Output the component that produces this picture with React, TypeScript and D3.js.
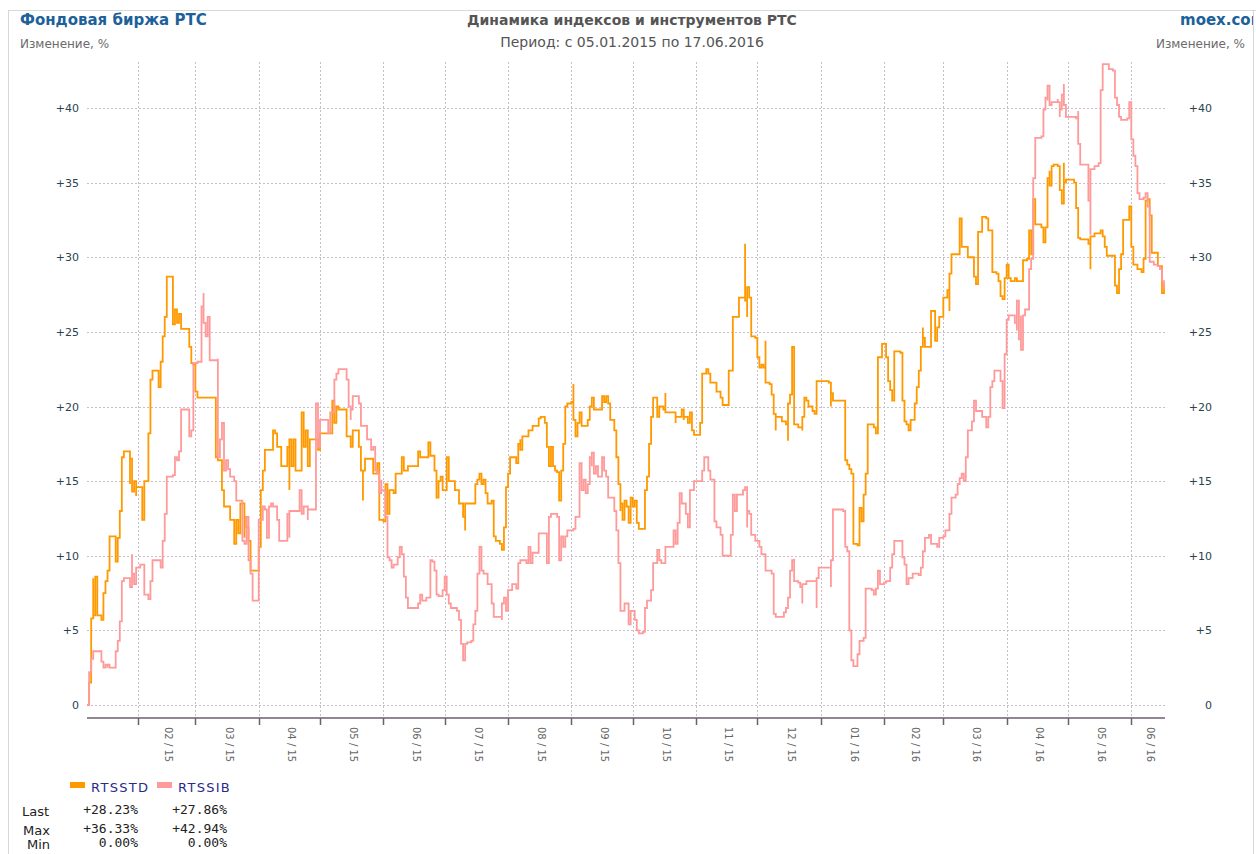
import React, { useEffect, useRef } from "react";
import * as d3 from "d3";

// RTSSTD (orange) - date, % change
const rtsstd: [string, number][] = [
  ["2015-01-07",0],["2015-01-08",1.5],["2015-01-09",3.2],["2015-01-09",5.8],["2015-01-10",8.5],["2015-01-10",6.0],
  ["2015-01-11",8.6],["2015-01-12",6.0],["2015-01-14",6.0],["2015-01-14",5.7],["2015-01-15",7.5],["2015-01-16",8.3],
  ["2015-01-17",9.0],["2015-01-18",11.3],["2015-01-21",11.3],["2015-01-21",9.6],["2015-01-22",11.2],["2015-01-23",13.0],
  ["2015-01-24",16.6],["2015-01-25",17.0],["2015-01-27",17.0],["2015-01-28",14.8],["2015-01-28",16.5],["2015-01-29",14.3],
  ["2015-01-30",15.0],["2015-01-31",14.0],["2015-01-31",14.6],["2015-02-02",14.6],["2015-02-03",12.4],["2015-02-04",15.0],
  ["2015-02-06",15.0],["2015-02-06",18.2],["2015-02-07",21.8],["2015-02-08",22.4],["2015-02-10",22.4],["2015-02-11",21.3],
  ["2015-02-12",23.0],["2015-02-13",24.7],["2015-02-14",26.0],["2015-02-15",28.7],["2015-02-17",28.7],["2015-02-18",25.5],
  ["2015-02-19",26.5],["2015-02-20",25.6],["2015-02-21",26.2],["2015-02-22",25.2],["2015-02-25",25.2],["2015-02-26",24.0],
  ["2015-02-27",22.9],["2015-02-28",22.8],["2015-03-01",21.0],["2015-03-02",20.6],["2015-03-10",20.6],["2015-03-11",16.6],
  ["2015-03-12",16.4],["2015-03-13",16.4],["2015-03-14",14.4],["2015-03-15",13.3],["2015-03-17",13.3],["2015-03-18",12.4],
  ["2015-03-20",10.8],["2015-03-21",12.4],["2015-03-22",11.5],["2015-03-23",13.5],["2015-03-24",13.5],["2015-03-25",11.2],
  ["2015-03-25",12.6],["2015-03-26",11.9],["2015-03-27",11.0],["2015-03-28",9.0],["2015-03-31",9.0],["2015-04-01",10.6],
  ["2015-04-02",14.4],["2015-04-03",15.7],["2015-04-04",17.1],["2015-04-08",17.2],["2015-04-08",18.4],["2015-04-09",18.2],
  ["2015-04-10",17.3],["2015-04-12",16.0],["2015-04-13",16.0],["2015-04-15",17.3],["2015-04-16",14.4],["2015-04-16",17.8],
  ["2015-04-17",16.0],["2015-04-18",17.8],["2015-04-19",15.7],["2015-04-21",15.7],["2015-04-22",19.6],["2015-04-23",17.3],
  ["2015-04-24",18.4],["2015-04-25",16.0],["2015-04-26",17.8],["2015-04-30",17.8],["2015-04-30",17.1],["2015-05-01",18.2],
  ["2015-05-06",18.2],["2015-05-07",20.4],["2015-05-08",18.9],["2015-05-09",20.0],["2015-05-10",19.8],["2015-05-13",19.8],
  ["2015-05-14",18.0],["2015-05-16",17.3],["2015-05-17",18.4],["2015-05-19",18.4],["2015-05-20",17.3],["2015-05-21",15.7],
  ["2015-05-22",13.7],["2015-05-22",15.7],["2015-05-23",16.5],["2015-05-25",16.5],["2015-05-27",16.2],["2015-05-27",15.5],
  ["2015-05-29",16.2],["2015-05-30",15.3],["2015-05-30",12.4],["2015-06-01",12.3],["2015-06-02",14.8],["2015-06-03",12.8],
  ["2015-06-04",14.4],["2015-06-06",14.2],["2015-06-07",15.5],["2015-06-10",15.5],["2015-06-10",16.6],["2015-06-11",15.7],
  ["2015-06-13",16.0],["2015-06-16",16.0],["2015-06-18",17.0],["2015-06-19",16.6],["2015-06-22",16.6],["2015-06-23",17.6],
  ["2015-06-24",16.7],["2015-06-26",15.7],["2015-06-27",14.6],["2015-06-27",13.9],["2015-06-28",15.0],["2015-06-29",15.3],
  ["2015-06-30",14.4],["2015-07-02",15.3],["2015-07-02",16.6],["2015-07-03",15.0],["2015-07-06",14.4],["2015-07-07",14.4],
  ["2015-07-08",13.5],["2015-07-10",12.6],["2015-07-11",11.7],["2015-07-11",13.5],["2015-07-14",13.5],["2015-07-16",14.8],
  ["2015-07-17",15.1],["2015-07-18",15.5],["2015-07-19",14.8],["2015-07-20",15.1],["2015-07-21",14.2],["2015-07-22",13.5],
  ["2015-07-24",13.7],["2015-07-25",11.3],["2015-07-26",11.0],["2015-07-28",10.8],["2015-07-29",10.4],["2015-07-30",11.9],
  ["2015-07-31",14.6],["2015-08-01",15.5],["2015-08-02",16.6],["2015-08-03",16.6],["2015-08-05",16.2],["2015-08-06",17.5],
  ["2015-08-07",17.8],["2015-08-07",17.1],["2015-08-08",18.0],["2015-08-11",18.4],["2015-08-13",18.7],["2015-08-16",19.2],
  ["2015-08-17",19.3],["2015-08-19",18.9],["2015-08-20",18.0],["2015-08-20",17.3],["2015-08-21",16.0],["2015-08-22",17.3],
  ["2015-08-23",16.0],["2015-08-24",15.7],["2015-08-25",15.6],["2015-08-26",13.7],["2015-08-27",15.7],["2015-08-28",17.5],
  ["2015-08-29",20.0],["2015-08-30",20.2],["2015-09-01",20.3],["2015-09-02",21.5],["2015-09-02",19.1],["2015-09-03",18.0],
  ["2015-09-04",18.9],["2015-09-05",19.6],["2015-09-06",18.7],["2015-09-07",18.7],["2015-09-09",19.1],["2015-09-10",20.0],
  ["2015-09-11",20.6],["2015-09-12",19.8],["2015-09-16",19.8],["2015-09-16",20.7],["2015-09-17",20.3],["2015-09-18",20.7],
  ["2015-09-19",20.2],["2015-09-20",19.1],["2015-09-21",19.1],["2015-09-22",18.4],["2015-09-23",16.6],["2015-09-24",14.8],
  ["2015-09-25",13.0],["2015-09-25",13.5],["2015-09-26",12.4],["2015-09-27",13.7],["2015-09-28",13.3],["2015-09-29",12.2],
  ["2015-09-30",13.9],["2015-10-01",13.3],["2015-10-02",13.7],["2015-10-03",12.2],["2015-10-04",11.8],["2015-10-07",11.8],
  ["2015-10-07",14.4],["2015-10-08",15.3],["2015-10-09",16.6],["2015-10-09",17.5],["2015-10-10",19.3],["2015-10-11",20.6],
  ["2015-10-13",20.6],["2015-10-13",19.3],["2015-10-14",20.0],["2015-10-16",19.8],["2015-10-17",20.9],["2015-10-17",19.6],
  ["2015-10-21",19.6],["2015-10-22",18.9],["2015-10-22",19.3],["2015-10-24",19.3],["2015-10-25",19.8],["2015-10-26",19.1],
  ["2015-10-26",19.3],["2015-10-28",18.9],["2015-10-29",19.6],["2015-10-30",18.4],["2015-10-31",18.1],["2015-11-02",18.1],
  ["2015-11-03",18.9],["2015-11-04",20.0],["2015-11-04",22.2],["2015-11-06",22.5],["2015-11-07",22.2],["2015-11-08",21.6],
  ["2015-11-09",21.6],["2015-11-11",21.0],["2015-11-13",20.6],["2015-11-14",20.1],["2015-11-17",20.1],["2015-11-17",22.4],
  ["2015-11-19",26.0],["2015-11-21",26.0],["2015-11-22",27.3],["2015-11-24",27.3],["2015-11-25",30.9],["2015-11-25",27.1],
  ["2015-11-26",26.0],["2015-11-26",28.0],["2015-11-27",27.3],["2015-11-28",27.1],["2015-11-28",24.7],["2015-11-30",24.6],
  ["2015-12-01",23.3],["2015-12-02",22.6],["2015-12-03",22.8],["2015-12-04",22.6],["2015-12-05",24.4],["2015-12-05",21.6],
  ["2015-12-07",21.5],["2015-12-08",20.8],["2015-12-09",19.5],["2015-12-10",18.4],["2015-12-10",19.3],["2015-12-11",19.3],
  ["2015-12-13",19.0],["2015-12-15",18.8],["2015-12-16",17.7],["2015-12-16",20.2],["2015-12-17",20.8],["2015-12-18",24.0],
  ["2015-12-19",20.8],["2015-12-19",18.8],["2015-12-21",18.6],["2015-12-23",18.4],["2015-12-23",19.3],["2015-12-24",20.6],
  ["2015-12-25",20.4],["2015-12-26",20.0],["2015-12-28",19.7],["2015-12-29",19.5],["2015-12-30",21.7],["2016-01-02",21.7],
  ["2016-01-05",21.6],["2016-01-06",20.0],["2016-01-06",20.9],["2016-01-07",20.4],["2016-01-12",20.4],["2016-01-13",16.4],
  ["2016-01-14",16.1],["2016-01-15",15.8],["2016-01-16",15.5],["2016-01-17",10.8],["2016-01-19",10.7],["2016-01-20",11.4],
  ["2016-01-20",13.2],["2016-01-21",12.3],["2016-01-22",14.1],["2016-01-23",15.5],["2016-01-24",18.8],["2016-01-27",18.6],
  ["2016-01-28",18.2],["2016-01-29",20.8],["2016-01-29",23.3],["2016-01-31",24.2],["2016-02-02",24.1],["2016-02-02",23.3],
  ["2016-02-03",21.7],["2016-02-04",21.1],["2016-02-05",20.4],["2016-02-06",23.7],["2016-02-09",23.6],["2016-02-10",20.4],
  ["2016-02-11",19.5],["2016-02-11",19.0],["2016-02-12",18.8],["2016-02-13",18.4],["2016-02-14",19.1],["2016-02-16",19.2],
  ["2016-02-16",20.2],["2016-02-17",21.3],["2016-02-18",22.4],["2016-02-19",24.0],["2016-02-20",25.3],["2016-02-20",24.6],
  ["2016-02-21",24.0],["2016-02-23",24.0],["2016-02-24",26.4],["2016-02-25",26.4],["2016-02-26",24.4],["2016-02-27",25.3],
  ["2016-02-28",26.0],["2016-02-29",26.0],["2016-03-01",27.3],["2016-03-03",27.8],["2016-03-04",26.4],["2016-03-04",28.9],
  ["2016-03-05",30.2],["2016-03-08",30.2],["2016-03-09",32.5],["2016-03-09",32.6],["2016-03-10",30.7],["2016-03-13",30.0],
  ["2016-03-14",30.0],["2016-03-16",28.7],["2016-03-17",28.2],["2016-03-18",29.3],["2016-03-18",31.7],["2016-03-20",32.7],
  ["2016-03-22",32.6],["2016-03-23",31.8],["2016-03-25",29.0],["2016-03-27",28.9],["2016-03-28",28.4],["2016-03-29",27.4],
  ["2016-03-30",27.2],["2016-03-31",28.6],["2016-04-01",29.5],["2016-04-02",28.6],["2016-04-03",28.4],["2016-04-05",28.6],
  ["2016-04-06",28.4],["2016-04-09",28.4],["2016-04-09",29.8],["2016-04-11",29.9],["2016-04-12",31.8],["2016-04-13",31.8],
  ["2016-04-13",30.2],["2016-04-14",33.9],["2016-04-15",32.2],["2016-04-18",32.0],["2016-04-19",31.0],["2016-04-20",32.0],
  ["2016-04-21",35.3],["2016-04-22",35.8],["2016-04-22",34.8],["2016-04-23",36.1],["2016-04-24",36.2],["2016-04-26",36.1],
  ["2016-04-27",35.3],["2016-04-27",34.5],["2016-04-28",33.6],["2016-04-29",36.33],["2016-04-29",35.0],["2016-04-30",35.2],
  ["2016-05-04",35.0],["2016-05-05",33.3],["2016-05-06",31.7],["2016-05-06",31.3],["2016-05-07",31.2],["2016-05-10",31.2],
  ["2016-05-11",30.9],["2016-05-12",29.2],["2016-05-12",31.4],["2016-05-14",31.6],["2016-05-17",31.8],["2016-05-18",31.4],
  ["2016-05-19",30.7],["2016-05-20",30.1],["2016-05-23",30.1],["2016-05-24",28.1],["2016-05-25",27.6],["2016-05-26",29.2],
  ["2016-05-27",30.2],["2016-05-28",31.5],["2016-05-28",32.5],["2016-05-31",32.5],["2016-05-31",33.4],["2016-06-01",30.7],
  ["2016-06-02",29.5],["2016-06-04",29.2],["2016-06-06",29.0],["2016-06-07",29.9],["2016-06-08",33.8],["2016-06-09",33.9],
  ["2016-06-10",33.5],["2016-06-10",32.8],["2016-06-11",30.3],["2016-06-14",30.3],["2016-06-14",29.4],["2016-06-16",28.1],
  ["2016-06-16",27.6],["2016-06-17",28.23],
];

// RTSSIB (pink) - date, % change
const rtssib: [string, number][] = [
  ["2015-01-07",0],["2015-01-08",1.6],["2015-01-08",2.2],["2015-01-09",3.1],["2015-01-10",3.6],["2015-01-13",3.6],
  ["2015-01-14",2.9],["2015-01-15",2.5],["2015-01-16",2.7],["2015-01-17",2.5],["2015-01-17",2.7],["2015-01-18",2.5],
  ["2015-01-21",2.5],["2015-01-21",3.6],["2015-01-22",4.3],["2015-01-23",5.6],["2015-01-24",8.3],["2015-01-25",8.5],
  ["2015-01-27",8.5],["2015-01-28",7.9],["2015-01-29",10.1],["2015-01-29",8.8],["2015-01-30",8.1],["2015-01-31",9.2],
  ["2015-02-02",9.4],["2015-02-04",9.2],["2015-02-04",7.4],["2015-02-06",7.1],["2015-02-07",8.3],["2015-02-08",9.7],
  ["2015-02-10",9.7],["2015-02-12",9.2],["2015-02-13",9.5],["2015-02-13",11.0],["2015-02-14",12.8],["2015-02-15",15.3],
  ["2015-02-18",15.4],["2015-02-19",16.6],["2015-02-20",16.4],["2015-02-21",17.0],["2015-02-22",17.0],["2015-02-22",19.8],
  ["2015-02-25",19.8],["2015-02-26",19.6],["2015-02-26",18.0],["2015-02-27",18.4],["2015-02-28",22.9],["2015-03-02",23.0],
  ["2015-03-03",23.0],["2015-03-04",24.7],["2015-03-04",26.7],["2015-03-05",27.6],["2015-03-05",25.6],["2015-03-06",24.7],
  ["2015-03-07",26.0],["2015-03-08",23.1],["2015-03-12",23.2],["2015-03-12",20.5],["2015-03-12",16.6],["2015-03-13",17.8],
  ["2015-03-14",18.9],["2015-03-15",15.7],["2015-03-16",16.4],["2015-03-17",15.8],["2015-03-18",15.3],["2015-03-20",15.0],
  ["2015-03-21",13.7],["2015-03-22",13.7],["2015-03-24",13.3],["2015-03-24",11.0],["2015-03-25",10.8],["2015-03-26",12.6],
  ["2015-03-27",9.7],["2015-03-28",8.8],["2015-03-29",7.9],["2015-03-29",7.0],["2015-04-01",7.0],["2015-04-01",12.4],
  ["2015-04-03",13.3],["2015-04-04",13.1],["2015-04-05",11.2],["2015-04-06",13.3],["2015-04-07",13.5],["2015-04-08",13.3],
  ["2015-04-10",12.4],["2015-04-11",11.0],["2015-04-13",11.0],["2015-04-15",12.8],["2015-04-16",11.2],["2015-04-16",13.0],
  ["2015-04-20",13.0],["2015-04-21",14.4],["2015-04-22",12.8],["2015-04-23",13.3],["2015-04-25",12.4],["2015-04-25",13.1],
  ["2015-04-29",13.3],["2015-04-29",20.2],["2015-04-30",17.3],["2015-05-01",19.1],["2015-05-05",19.1],["2015-05-05",18.2],
  ["2015-05-06",19.6],["2015-05-08",21.8],["2015-05-09",22.2],["2015-05-10",22.5],["2015-05-13",22.5],["2015-05-14",21.8],
  ["2015-05-15",20.8],["2015-05-15",20.0],["2015-05-16",19.1],["2015-05-16",19.8],["2015-05-17",20.7],["2015-05-19",20.7],
  ["2015-05-20",20.2],["2015-05-21",18.7],["2015-05-24",18.4],["2015-05-24",17.8],["2015-05-26",17.1],["2015-05-27",17.3],
  ["2015-05-28",16.6],["2015-05-28",15.7],["2015-05-29",15.5],["2015-05-30",14.2],["2015-05-31",15.1],["2015-05-31",14.4],
  ["2015-06-02",12.6],["2015-06-03",9.9],["2015-06-04",9.7],["2015-06-05",9.2],["2015-06-06",9.4],["2015-06-08",9.9],
  ["2015-06-09",10.6],["2015-06-10",10.1],["2015-06-11",8.6],["2015-06-12",7.2],["2015-06-13",6.5],["2015-06-16",6.5],
  ["2015-06-18",6.8],["2015-06-19",7.4],["2015-06-20",7.0],["2015-06-22",7.2],["2015-06-23",7.2],["2015-06-24",9.7],
  ["2015-06-25",9.6],["2015-06-26",9.0],["2015-06-27",7.4],["2015-06-28",7.3],["2015-06-30",7.7],["2015-07-01",8.6],
  ["2015-07-02",7.4],["2015-07-03",6.8],["2015-07-04",6.5],["2015-07-06",6.5],["2015-07-07",6.3],["2015-07-08",5.7],
  ["2015-07-09",4.1],["2015-07-10",3.0],["2015-07-11",4.1],["2015-07-12",4.2],["2015-07-14",4.3],["2015-07-15",4.8],
  ["2015-07-15",5.4],["2015-07-16",6.3],["2015-07-17",8.8],["2015-07-18",10.6],["2015-07-19",9.0],["2015-07-20",8.8],
  ["2015-07-22",8.1],["2015-07-24",7.4],["2015-07-24",6.8],["2015-07-25",5.9],["2015-07-29",5.7],["2015-07-29",6.8],
  ["2015-07-30",7.2],["2015-07-31",6.3],["2015-08-01",7.7],["2015-08-03",8.1],["2015-08-04",8.1],["2015-08-05",7.8],
  ["2015-08-06",9.5],["2015-08-07",9.7],["2015-08-10",9.5],["2015-08-11",10.4],["2015-08-11",10.6],["2015-08-12",9.5],
  ["2015-08-13",10.2],["2015-08-16",10.6],["2015-08-16",11.5],["2015-08-20",11.3],["2015-08-20",9.5],["2015-08-21",12.6],
  ["2015-08-22",12.8],["2015-08-25",12.6],["2015-08-26",9.7],["2015-08-27",11.3],["2015-08-28",10.6],["2015-08-29",11.3],
  ["2015-08-30",11.7],["2015-09-02",11.8],["2015-09-03",12.6],["2015-09-04",12.6],["2015-09-05",16.2],["2015-09-06",15.5],
  ["2015-09-06",14.4],["2015-09-07",15.1],["2015-09-08",14.2],["2015-09-09",14.8],["2015-09-10",16.6],["2015-09-11",16.0],
  ["2015-09-11",16.9],["2015-09-12",15.5],["2015-09-13",16.0],["2015-09-14",15.3],["2015-09-16",16.6],["2015-09-17",15.7],
  ["2015-09-18",15.3],["2015-09-19",13.9],["2015-09-20",13.9],["2015-09-22",13.0],["2015-09-23",11.7],["2015-09-24",9.5],
  ["2015-09-25",7.4],["2015-09-25",6.3],["2015-09-27",6.8],["2015-09-29",6.8],["2015-09-29",5.4],["2015-09-30",6.3],
  ["2015-10-02",5.7],["2015-10-03",5.0],["2015-10-04",4.8],["2015-10-06",4.9],["2015-10-07",6.5],["2015-10-08",7.0],
  ["2015-10-10",7.7],["2015-10-11",9.5],["2015-10-13",9.5],["2015-10-13",10.4],["2015-10-14",9.7],["2015-10-15",9.5],
  ["2015-10-17",10.1],["2015-10-17",10.6],["2015-10-21",10.8],["2015-10-21",11.7],["2015-10-22",10.8],["2015-10-23",12.2],
  ["2015-10-24",14.2],["2015-10-25",13.5],["2015-10-27",12.8],["2015-10-28",11.9],["2015-10-29",14.4],["2015-10-31",14.6],
  ["2015-10-31",15.0],["2015-11-04",15.1],["2015-11-04",15.7],["2015-11-05",16.6],["2015-11-06",16.6],["2015-11-07",15.7],
  ["2015-11-08",15.1],["2015-11-10",15.0],["2015-11-10",12.3],["2015-11-11",11.9],["2015-11-13",11.7],["2015-11-13",11.4],
  ["2015-11-14",10.0],["2015-11-17",10.0],["2015-11-18",11.4],["2015-11-19",14.1],["2015-11-20",13.0],["2015-11-21",14.1],
  ["2015-11-24",14.4],["2015-11-25",14.6],["2015-11-26",11.9],["2015-11-26",13.0],["2015-11-27",12.8],["2015-11-28",11.4],
  ["2015-11-30",11.4],["2015-11-30",11.0],["2015-12-02",10.6],["2015-12-03",10.1],["2015-12-04",10.1],["2015-12-05",9.0],
  ["2015-12-06",9.0],["2015-12-08",8.8],["2015-12-09",6.1],["2015-12-10",5.9],["2015-12-14",6.2],["2015-12-15",6.5],
  ["2015-12-16",7.2],["2015-12-17",9.0],["2015-12-18",9.7],["2015-12-19",9.8],["2015-12-19",8.3],["2015-12-21",8.2],
  ["2015-12-22",7.9],["2015-12-23",6.8],["2015-12-23",8.1],["2015-12-25",8.3],["2015-12-29",8.3],["2015-12-30",6.5],
  ["2015-12-30",8.5],["2015-12-31",9.2],["2016-01-05",9.2],["2016-01-06",7.9],["2016-01-06",9.7],["2016-01-07",13.1],
  ["2016-01-12",13.0],["2016-01-13",10.6],["2016-01-14",10.3],["2016-01-15",8.1],["2016-01-15",5.0],["2016-01-16",3.0],
  ["2016-01-17",2.6],["2016-01-19",2.6],["2016-01-19",3.4],["2016-01-20",4.3],["2016-01-22",4.5],["2016-01-23",6.1],
  ["2016-01-23",7.8],["2016-01-26",7.7],["2016-01-27",7.4],["2016-01-28",7.8],["2016-01-29",9.0],["2016-01-30",8.1],
  ["2016-02-01",8.2],["2016-02-02",8.3],["2016-02-04",9.2],["2016-02-05",10.1],["2016-02-06",11.0],["2016-02-08",11.0],
  ["2016-02-10",9.9],["2016-02-11",9.4],["2016-02-12",8.1],["2016-02-13",8.5],["2016-02-15",8.8],["2016-02-18",8.7],
  ["2016-02-19",9.2],["2016-02-20",10.3],["2016-02-21",11.2],["2016-02-23",11.4],["2016-02-24",10.8],["2016-02-27",10.6],
  ["2016-02-28",11.2],["2016-03-01",11.3],["2016-03-02",11.7],["2016-03-04",12.6],["2016-03-04",12.8],["2016-03-05",13.9],
  ["2016-03-07",14.1],["2016-03-08",14.8],["2016-03-09",15.2],["2016-03-10",15.5],["2016-03-11",15.0],["2016-03-12",16.6],
  ["2016-03-13",18.4],["2016-03-15",19.0],["2016-03-16",20.4],["2016-03-17",19.7],["2016-03-20",19.3],["2016-03-22",18.6],
  ["2016-03-23",19.3],["2016-03-24",21.3],["2016-03-25",21.7],["2016-03-26",22.4],["2016-03-28",22.4],["2016-03-29",21.7],
  ["2016-03-30",20.4],["2016-03-30",19.9],["2016-03-31",23.5],["2016-04-01",25.8],["2016-04-02",26.1],["2016-04-04",26.1],
  ["2016-04-05",25.6],["2016-04-06",25.1],["2016-04-06",27.1],["2016-04-07",24.5],["2016-04-08",26.1],["2016-04-08",23.8],
  ["2016-04-09",26.1],["2016-04-10",26.5],["2016-04-12",26.6],["2016-04-12",29.2],["2016-04-13",29.9],["2016-04-14",32.2],
  ["2016-04-14",35.3],["2016-04-15",38.0],["2016-04-18",38.1],["2016-04-19",39.9],["2016-04-20",40.7],["2016-04-21",40.5],
  ["2016-04-21",41.5],["2016-04-22",40.2],["2016-04-23",40.4],["2016-04-26",40.6],["2016-04-26",40.4],["2016-04-27",39.4],
  ["2016-04-27",39.9],["2016-04-28",40.9],["2016-04-29",41.6],["2016-04-29",40.2],["2016-04-30",39.4],["2016-05-05",39.3],
  ["2016-05-06",39.8],["2016-05-06",37.6],["2016-05-07",36.2],["2016-05-11",36.1],["2016-05-11",33.8],["2016-05-12",31.5],
  ["2016-05-12",35.9],["2016-05-14",36.1],["2016-05-16",36.3],["2016-05-17",41.2],["2016-05-18",42.4],["2016-05-18",42.94],
  ["2016-05-20",42.94],["2016-05-21",42.6],["2016-05-23",42.5],["2016-05-24",40.7],["2016-05-25",40.2],["2016-05-26",39.4],
  ["2016-05-27",39.2],["2016-05-30",39.3],["2016-05-31",39.8],["2016-05-31",40.4],["2016-06-01",37.9],["2016-06-02",36.8],
  ["2016-06-03",36.1],["2016-06-04",34.3],["2016-06-05",33.9],["2016-06-07",34.0],["2016-06-08",34.3],["2016-06-09",33.4],
  ["2016-06-10",33.0],["2016-06-10",29.7],["2016-06-12",29.5],["2016-06-14",29.4],["2016-06-15",29.2],["2016-06-16",28.9],
  ["2016-06-16",28.4],["2016-06-17",27.86],
];

const seriesNames = ["RTSSTD", "RTSSIB"];
const lastValues = ["+28.23%", "+27.86%"];
const maxValues = ["+36.33%", "+42.94%"];
const minValues = ["0.00%", "0.00%"];
const yTicks = [0, 5, 10, 15, 20, 25, 30, 35, 40];
const monthTicks = ["2015-02-01","2015-03-01","2015-04-01","2015-05-01","2015-06-01","2015-07-01","2015-08-01","2015-09-01",
  "2015-10-01","2015-11-01","2015-12-01","2016-01-01","2016-02-01","2016-03-01","2016-04-01","2016-05-01","2016-06-01"];
const monthLabels = ["02 / 15","03 / 15","04 / 15","05 / 15","06 / 15","07 / 15","08 / 15","09 / 15","10 / 15","11 / 15",
  "12 / 15","01 / 16","02 / 16","03 / 16","04 / 16","05 / 16","06 / 16"];

const colors = ["#ff9900", "#ff9a9a"];
const FONT = "'DejaVu Sans', Verdana, sans-serif";

export default function App() {
  const svgRef = useRef<SVGSVGElement>(null);

  useEffect(() => {
    if (!svgRef.current) return;
    const svg = d3.select(svgRef.current);
    svg.selectAll("*").remove();

    const parse = d3.timeParse("%Y-%m-%d");
    const left = 87, right = 1165, top = 62, axisY = 718;

    const x = d3.scaleTime()
      .domain([parse("2015-01-05")!, parse("2016-06-17")!])
      .range([83, 1164]);
    const y = d3.scaleLinear().domain([0, 40]).range([705, 108]);

    // frame
    svg.append("line").attr("x1", 8).attr("x2", 1256).attr("y1", 10.5).attr("y2", 10.5)
      .attr("stroke", "#d3dcd5");
    svg.append("line").attr("x1", 8.5).attr("x2", 8.5).attr("y1", 10).attr("y2", 854)
      .attr("stroke", "#d6d6d6");
    svg.append("line").attr("x1", 1253.5).attr("x2", 1253.5).attr("y1", 10).attr("y2", 854)
      .attr("stroke", "#d6d6d6");

    // titles
    svg.append("defs").append("clipPath").attr("id", "clipR")
      .append("rect").attr("x", 0).attr("y", 0).attr("width", 1253).attr("height", 854);
    const t = svg.append("g").attr("font-family", FONT);
    t.append("text").attr("x", 20).attr("y", 25).attr("font-size", 15).attr("font-weight", "bold")
      .attr("fill", "#1c6199").text("Фондовая биржа РТС");
    t.append("text").attr("x", 20).attr("y", 48).attr("font-size", 12).attr("fill", "#6b6b6b")
      .text("Изменение, %");
    t.append("text").attr("x", 632).attr("y", 25).attr("font-size", 14).attr("font-weight", "bold")
      .attr("text-anchor", "middle").attr("fill", "#555").text("Динамика индексов и инструментов РТС");
    t.append("text").attr("x", 632).attr("y", 47).attr("font-size", 14).attr("text-anchor", "middle")
      .attr("fill", "#555").text("Период: с 05.01.2015 по 17.06.2016");
    t.append("text").attr("x", 1180).attr("y", 25).attr("font-size", 15).attr("font-weight", "bold")
      .attr("fill", "#1c6199").attr("clip-path", "url(#clipR)").text("moex.com");
    t.append("text").attr("x", 1245).attr("y", 48).attr("font-size", 12).attr("text-anchor", "end")
      .attr("fill", "#6b6b6b").text("Изменение, %");

    // grid
    const grid = svg.append("g").attr("stroke", "#c9bccb").attr("stroke-dasharray", "2,2");
    grid.selectAll(".h").data(yTicks).enter().append("line")
      .attr("x1", left).attr("x2", right)
      .attr("y1", d => Math.round(y(d)) + 0.5).attr("y2", d => Math.round(y(d)) + 0.5);
    const months = monthTicks.map(m => parse(m)!);
    grid.selectAll(".v").data(months).enter().append("line")
      .attr("x1", d => Math.round(x(d)) + 0.5).attr("x2", d => Math.round(x(d)) + 0.5)
      .attr("y1", top).attr("y2", axisY);

    // y labels
    const yl = svg.append("g").attr("font-family", FONT).attr("font-size", 11).attr("fill", "#2b4450");
    yl.selectAll(".l").data(yTicks).enter().append("text")
      .attr("x", 79).attr("y", d => y(d) + 4).attr("text-anchor", "end")
      .text(d => (d === 0 ? "0" : "+" + d));
    yl.selectAll(".r").data(yTicks).enter().append("text")
      .attr("x", 1212).attr("y", d => y(d) + 4).attr("text-anchor", "end")
      .text(d => (d === 0 ? "0" : "+" + d));

    // x axis
    svg.append("line").attr("x1", left).attr("x2", right).attr("y1", axisY).attr("y2", axisY)
      .attr("stroke", "#6d5f70").attr("stroke-width", 1.5);
    svg.append("g").selectAll("line").data(months).enter().append("line")
      .attr("x1", d => Math.round(x(d)) + 0.5).attr("x2", d => Math.round(x(d)) + 0.5)
      .attr("y1", axisY).attr("y2", axisY + 7)
      .attr("stroke", "#6d5f70").attr("stroke-width", 1.5);
    // labels sit in the middle of each month's visible span
    svg.append("g").attr("font-family", FONT).attr("font-size", 10).attr("fill", "#666")
      .selectAll("text").data(months).enter().append("text")
      .attr("transform", (d, i) => {
        const end = i < months.length - 1 ? x(months[i + 1]) : right;
        return `translate(${(x(d) + end) / 2 + 2},${axisY + 9}) rotate(90)`;
      })
      .attr("dy", "0.35em")
      .text((d, i) => monthLabels[i]);

    // lines (stair-like, as daily closes)
    const line = d3.line<[string, number]>()
      .x(d => x(parse(d[0])!))
      .y(d => y(d[1]))
      .curve(d3.curveStepAfter);
    [rtsstd, rtssib].forEach((s, i) => {
      svg.append("path").datum(s).attr("d", line).attr("fill", "none")
        .attr("stroke", colors[i]).attr("stroke-width", 1.8);
    });

    // legend
    const lg = svg.append("g").attr("font-family", FONT);
    const legX = [70, 157];
    seriesNames.forEach((n, i) => {
      lg.append("rect").attr("x", legX[i]).attr("y", 782).attr("width", 15).attr("height", 6).attr("fill", colors[i]);
      lg.append("text").attr("x", legX[i] + 21).attr("y", 792).attr("font-size", 13).attr("letter-spacing", 1.3)
        .attr("fill", "#2a2a8c").text(n);
    });
    const rows: [string, string[], number][] = [["Last", lastValues, 816], ["Max", maxValues, 835], ["Min", minValues, 849]];
    rows.forEach(([label, vals, yy], r) => {
      lg.append("text").attr("x", r === 0 ? 22 : r === 1 ? 23 : 27).attr("y", yy).attr("font-size", 13)
        .attr("fill", "#222").text(label);
      vals.forEach((v, i) => {
        lg.append("text").attr("x", [138, 227][i]).attr("y", yy - 2).attr("text-anchor", "end")
          .attr("font-family", "'DejaVu Sans Mono', monospace").attr("font-size", 13).attr("fill", "#222").text(v);
      });
    });
  }, []);

  return (
    <div style={{ position: "absolute", left: 0, top: 0 }}>
      <svg ref={svgRef} width={1256} height={854} style={{ display: "block", background: "#fff" }} />
    </div>
  );
}
